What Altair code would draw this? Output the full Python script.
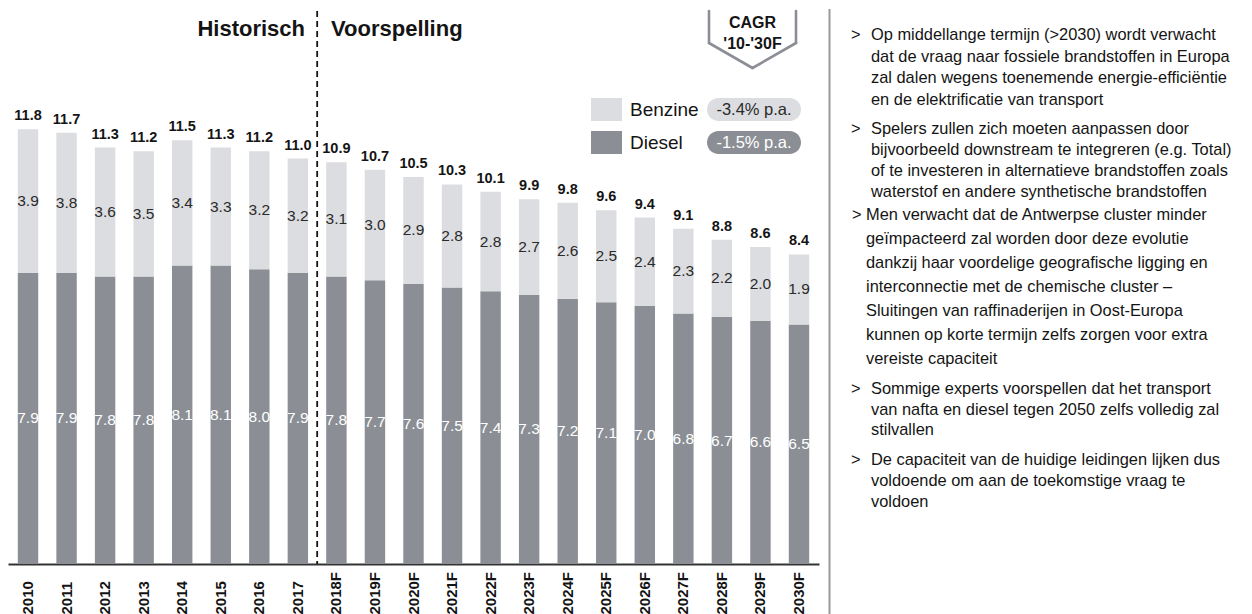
import altair as alt
import pandas as pd

# ---------------- data ----------------
years = ["2010", "2011", "2012", "2013", "2014", "2015", "2016", "2017",
         "2018F", "2019F", "2020F", "2021F", "2022F", "2023F", "2024F",
         "2025F", "2026F", "2027F", "2028F", "2029F", "2030F"]
benzine = [3.9, 3.8, 3.6, 3.5, 3.4, 3.3, 3.2, 3.2, 3.1, 3.0, 2.9, 2.8, 2.8,
           2.7, 2.6, 2.5, 2.4, 2.3, 2.2, 2.0, 1.9]
diesel = [7.9, 7.9, 7.8, 7.8, 8.1, 8.1, 8.0, 7.9, 7.8, 7.7, 7.6, 7.5, 7.4,
          7.3, 7.2, 7.1, 7.0, 6.8, 6.7, 6.6, 6.5]
totals = [11.8, 11.7, 11.3, 11.2, 11.5, 11.3, 11.2, 11.0, 10.9, 10.7, 10.5,
          10.3, 10.1, 9.9, 9.8, 9.6, 9.4, 9.1, 8.8, 8.6, 8.4]

series_names = ["Benzine", "Diesel"]
cagr_labels = ["-3.4% p.a.", "-1.5% p.a."]
period_labels = ["Historisch", "Voorspelling"]
badge_lines = ["CAGR", "'10-'30F"]
first_forecast = "2018F"

bullets = [
    ["Op middellange termijn (>2030) wordt verwacht",
     "dat de vraag naar fossiele brandstoffen in Europa",
     "zal dalen wegens toenemende energie-efficiëntie",
     "en de elektrificatie van transport"],
    ["Spelers zullen zich moeten aanpassen door",
     "bijvoorbeeld downstream te integreren (e.g. Total)",
     "of te investeren in alternatieve brandstoffen zoals",
     "waterstof en andere synthetische brandstoffen"],
    ["Men verwacht dat de Antwerpse cluster minder",
     "geïmpacteerd zal worden door deze evolutie",
     "dankzij haar voordelige geografische ligging en",
     "interconnectie met de chemische cluster –",
     "Sluitingen van raffinaderijen in Oost-Europa",
     "kunnen op korte termijn zelfs zorgen voor extra",
     "vereiste capaciteit"],
    ["Sommige experts voorspellen dat het transport",
     "van nafta en diesel tegen 2050 zelfs volledig zal",
     "stilvallen"],
    ["De capaciteit van de huidige leidingen lijken dus",
     "voldoende om aan de toekomstige vraag te",
     "voldoen"],
]

df = pd.DataFrame({"jaar": years, "Benzine": benzine, "Diesel": diesel, "Totaal": totals})
one = pd.DataFrame({"k": [0]})

# ---------------- style ----------------
SANS = "Liberation Sans, Arial, sans-serif"
LIGHT = "#dcdde0"
DARK = "#8b8f95"
INK = "#141414"

W, H = 811, 555

xaxis = alt.Axis(title=None, labelAngle=-90, labelAlign="left", labelBaseline="middle",
                 ticks=False, domainColor="#333333", domainWidth=2, labelFont=SANS,
                 labelFontSize=15, labelFontWeight="bold", labelColor=INK,
                 labelPadding=50, grid=False)
xscale = alt.Scale(paddingInner=0.47, paddingOuter=0.254)


def X():
    return alt.X("jaar:N", sort=years, scale=xscale, axis=xaxis)


yscale = alt.Scale(domain=[0, 15.06], nice=False, zero=True)

base = alt.Chart(df)

diesel_bar = base.mark_bar(color=DARK).encode(
    x=X(), y=alt.Y("Diesel:Q", scale=yscale, axis=None))
benz_bar = base.mark_bar(color=LIGHT).encode(
    x=X(), y=alt.Y("Diesel:Q", scale=yscale, axis=None), y2="Totaal:Q")

tot_lbl = base.mark_text(font=SANS, fontSize=14.5, fontWeight="bold", color=INK,
                         baseline="alphabetic", dy=-9).encode(
    x=X(), y=alt.Y("Totaal:Q", scale=yscale, axis=None),
    text=alt.Text("Totaal:Q", format=".1f"))

benz_lbl = base.transform_calculate(mid="(datum.Diesel + datum.Totaal) / 2").mark_text(
    font=SANS, fontSize=15.5, color="#2a2a2a", baseline="middle").encode(
    x=X(), y=alt.Y("mid:Q", scale=yscale, axis=None),
    text=alt.Text("Benzine:Q", format=".1f"))

dies_lbl = base.transform_calculate(mid="datum.Diesel / 2").mark_text(
    font=SANS, fontSize=15.5, color="white", baseline="middle").encode(
    x=X(), y=alt.Y("mid:Q", scale=yscale, axis=None),
    text=alt.Text("Diesel:Q", format=".1f"))

divider = alt.Chart(pd.DataFrame({"jaar": [first_forecast]})).mark_rule(
    color=INK, strokeWidth=1.8, strokeDash=[6, 4], xOffset=-9).encode(
    x=alt.X("jaar:N", sort=years, scale=xscale, axis=xaxis, bandPosition=0),
    y=alt.value(2), y2=alt.value(H))

layers = [diesel_bar, benz_bar, tot_lbl, benz_lbl, dies_lbl, divider]

# period headers
layers.append(alt.Chart(one).mark_text(font=SANS, fontSize=22, fontWeight="bold",
                                       color=INK, align="right", baseline="middle").encode(
    x=alt.value(297), y=alt.value(20), text=alt.value(period_labels[0])))
layers.append(alt.Chart(one).mark_text(font=SANS, fontSize=22, fontWeight="bold",
                                       color=INK, align="left", baseline="middle").encode(
    x=alt.value(323), y=alt.value(20), text=alt.value(period_labels[1])))

# CAGR badge
for (x1, y1, x2, y2) in [(701, 2, 701, 34), (788, 2, 788, 34),
                         (701, 34, 744.5, 59), (788, 34, 744.5, 59)]:
    layers.append(alt.Chart(one).mark_rule(color=DARK, strokeWidth=2.6, strokeCap="round").encode(
        x=alt.value(x1), y=alt.value(y1), x2=alt.value(x2), y2=alt.value(y2)))
for txt, yy in zip(badge_lines, [14, 35]):
    layers.append(alt.Chart(one).mark_text(font=SANS, fontSize=16, fontWeight="bold",
                                           color=INK, align="center", baseline="middle").encode(
        x=alt.value(744.5), y=alt.value(yy), text=alt.value(txt)))

# legend
for i, (name, cagr, col, tcol) in enumerate(zip(series_names, cagr_labels,
                                                 [LIGHT, DARK], ["#2a2a2a", "white"])):
    y0 = 89 + 33 * i
    layers.append(alt.Chart(one).mark_rect(color=col).encode(
        x=alt.value(583), x2=alt.value(614), y=alt.value(y0), y2=alt.value(y0 + 23)))
    layers.append(alt.Chart(one).mark_text(font=SANS, fontSize=19, color=INK,
                                           align="left", baseline="middle").encode(
        x=alt.value(622), y=alt.value(y0 + 12), text=alt.value(name)))
    layers.append(alt.Chart(one).mark_rect(color=col, cornerRadius=11.5).encode(
        x=alt.value(699), x2=alt.value(793), y=alt.value(y0), y2=alt.value(y0 + 23)))
    layers.append(alt.Chart(one).mark_text(font=SANS, fontSize=16.5, color=tcol,
                                           align="center", baseline="middle").encode(
        x=alt.value(746), y=alt.value(y0 + 12), text=alt.value(cagr)))

# separator between chart and commentary
layers.append(alt.Chart(one).mark_rule(color="#9a9a9a", strokeWidth=2).encode(
    x=alt.value(821.5), y=alt.value(0), y2=alt.value(620)))

# commentary bullets
bullet_pos = [(31, 21.7, 863, 843), (125, 21.0, 863, 843), (211, 24.0, 858, 844),
              (385, 20.5, 863, 843), (456, 21.0, 863, 843)]
for lines, (yb, lh, xt, xb) in zip(bullets, bullet_pos):
    layers.append(alt.Chart(one).mark_text(font=SANS, fontSize=16.4, color=INK, align="left",
                                           baseline="alphabetic").encode(
        x=alt.value(xb), y=alt.value(yb), text=alt.value(">")))
    layers.append(alt.Chart(one).mark_text(font=SANS, fontSize=16.4, color=INK, align="left",
                                           baseline="alphabetic", lineBreak="\n",
                                           lineHeight=lh).encode(
        x=alt.value(xt), y=alt.value(yb), text=alt.value("\n".join(lines))))

chart = alt.layer(*layers).properties(
    width=W, height=H, padding=0, background="white"
).configure_view(stroke=None)

chart.save("out.html", embed_options={"renderer": "svg", "actions": False})
